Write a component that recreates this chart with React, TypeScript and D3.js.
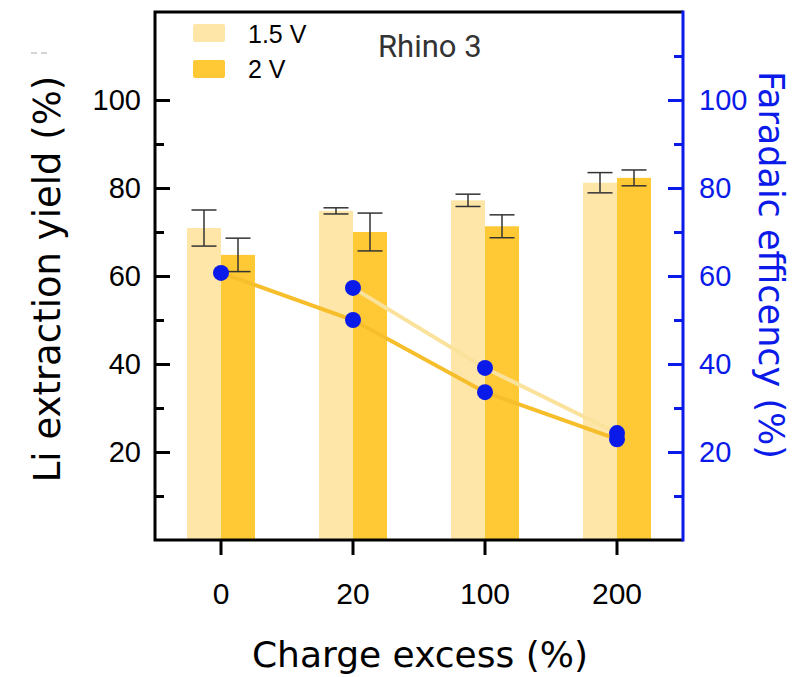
import React, { useEffect, useRef } from 'react';
import * as d3 from 'd3';

// categories (charge excess, %)
const categories = ['0', '20', '100', '200'];
// Li extraction yield (%)
const yield15 = [70.9, 74.8, 77.2, 81.2];
const err15 = [4.1, 0.7, 1.4, 2.3];
const yield2 = [64.8, 70.0, 71.3, 82.3];
const err2 = [3.8, 4.3, 2.6, 1.8];
// Faradaic efficiency (%)
const fe15: (number | null)[] = [null, 57.3, 39.1, 24.3];
const fe2: (number | null)[] = [60.7, 50.0, 33.6, 22.9];
const majorTicks = [20, 40, 60, 80, 100];
const minorLeft = [10, 30, 50, 70, 90];
const minorRight = [10, 30, 50, 70, 90, 110];

const LIGHT = '#FEE6A8';
const DARK = '#FFC935';
const LIGHT_LINE = '#FBE29C';
const DARK_LINE = '#F7BE2C';
const BLUE = '#0a1ae8';
const TICK_FONT = '"Liberation Sans", Arial, sans-serif';
const TITLE_FONT = '"DejaVu Sans", Verdana, sans-serif';

const App = () => {
  const ref = useRef<SVGSVGElement>(null);

  useEffect(() => {
    const W = 793;
    const H = 677;
    const left = 155, right = 683, top = 12, bottom = 540;

    const svg = d3.select(ref.current);
    svg.selectAll('*').remove();
    svg.attr('width', W).attr('height', H);

    const x = d3.scaleBand().domain(categories).range([left, right]).padding(0);
    const y = d3.scaleLinear().domain([0, 120]).range([bottom, top]);
    const cx = (c: string) => (x(c) as number) + x.bandwidth() / 2;
    const bw = 34;

    // bars
    const bars = svg.append('g');
    bars.selectAll('.b15').data(categories).enter().append('rect')
      .attr('x', d => cx(d) - bw)
      .attr('y', (d, i) => y(yield15[i]))
      .attr('width', bw)
      .attr('height', (d, i) => bottom - y(yield15[i]))
      .attr('fill', LIGHT);
    bars.selectAll('.b2').data(categories).enter().append('rect')
      .attr('x', d => cx(d))
      .attr('y', (d, i) => y(yield2[i]))
      .attr('width', bw)
      .attr('height', (d, i) => bottom - y(yield2[i]))
      .attr('fill', DARK);

    // error bars
    const errs = [
      { vals: yield15, err: err15, off: -bw / 2 },
      { vals: yield2, err: err2, off: bw / 2 },
    ];
    errs.forEach(s => {
      categories.forEach((c, i) => {
        const ex = cx(c) + s.off;
        const y1 = y(s.vals[i] + s.err[i]);
        const y0 = y(s.vals[i] - s.err[i]);
        const g = svg.append('g').attr('stroke', '#333').attr('stroke-width', 1.5);
        g.append('line').attr('x1', ex).attr('x2', ex).attr('y1', y1).attr('y2', y0);
        g.append('line').attr('x1', ex - 12.5).attr('x2', ex + 12.5).attr('y1', y1).attr('y2', y1);
        g.append('line').attr('x1', ex - 12.5).attr('x2', ex + 12.5).attr('y1', y0).attr('y2', y0);
      });
    });

    // faradaic efficiency lines
    const line = d3.line<[string, number | null]>()
      .defined(d => d[1] !== null)
      .x(d => cx(d[0]))
      .y(d => y(d[1] as number));
    const series = [
      { vals: fe15, color: LIGHT_LINE },
      { vals: fe2, color: DARK_LINE },
    ];
    series.forEach(s => {
      svg.append('path')
        .datum(categories.map((c, i) => [c, s.vals[i]] as [string, number | null]))
        .attr('fill', 'none')
        .attr('stroke', s.color)
        .attr('stroke-width', 4)
        .attr('d', line);
    });
    series.forEach(s => {
      svg.append('g').selectAll('circle')
        .data(categories.map((c, i) => [c, s.vals[i]] as [string, number | null]).filter(d => d[1] !== null))
        .enter().append('circle')
        .attr('cx', d => cx(d[0]))
        .attr('cy', d => y(d[1] as number))
        .attr('r', 8)
        .attr('fill', BLUE);
    });

    // axes
    const styleAxis = (g: any, color: string) => {
      g.select('.domain').remove();
      g.selectAll('line').attr('stroke', color).attr('stroke-width', 3);
      g.selectAll('text')
        .attr('fill', color)
        .style('font-family', TICK_FONT)
        .style('font-size', '29px');
    };
    svg.append('g').attr('transform', `translate(${left},0)`)
      .call(d3.axisLeft(y).tickValues(majorTicks).tickSize(-15).tickPadding(14))
      .call(g => styleAxis(g, '#000'));
    svg.append('g').attr('transform', `translate(${left},0)`)
      .call(d3.axisLeft(y).tickValues(minorLeft).tickSize(-9).tickFormat(() => ''))
      .call(g => styleAxis(g, '#000'));

    svg.append('g').attr('transform', `translate(${right},0)`)
      .call(d3.axisRight(y).tickValues(majorTicks).tickSize(-15).tickPadding(16))
      .call(g => styleAxis(g, BLUE));
    svg.append('g').attr('transform', `translate(${right},0)`)
      .call(d3.axisRight(y).tickValues(minorRight).tickSize(-9).tickFormat(() => ''))
      .call(g => styleAxis(g, BLUE));

    svg.append('g').attr('transform', `translate(0,${bottom})`)
      .call(d3.axisBottom(x).tickSize(15).tickPadding(28))
      .call(g => {
        styleAxis(g, '#000');
        g.selectAll('text').style('font-size', '30px');
      });

    // frame
    svg.append('path')
      .attr('d', `M${right},${top}H${left}V${bottom}H${right}`)
      .attr('fill', 'none').attr('stroke', '#000').attr('stroke-width', 3);
    svg.append('line')
      .attr('x1', right).attr('x2', right).attr('y1', top - 1.5).attr('y2', bottom + 1.5)
      .attr('stroke', BLUE).attr('stroke-width', 3);

    // axis titles
    svg.append('text')
      .attr('x', (left + right) / 2 + 1)
      .attr('y', 667)
      .attr('text-anchor', 'middle')
      .style('font-family', TITLE_FONT)
      .style('font-size', '36px')
      .text('Charge excess (%)');
    svg.append('text')
      .attr('transform', 'translate(60,279) rotate(-90)')
      .attr('text-anchor', 'middle')
      .style('font-family', TITLE_FONT)
      .style('font-size', '37px')
      .text('Li extraction yield (%)');
    svg.append('text')
      .attr('transform', 'translate(759,265) rotate(90)')
      .attr('text-anchor', 'middle')
      .attr('fill', BLUE)
      .style('font-family', TITLE_FONT)
      .style('font-size', '35px')
      .text('Faradaic efficency (%)');

    // legend
    const legend = [
      { label: '1.5 V', color: LIGHT },
      { label: '2 V', color: DARK },
    ];
    const lg = svg.append('g');
    legend.forEach((d, i) => {
      lg.append('rect')
        .attr('x', 193).attr('y', 24 + i * 36)
        .attr('width', 32).attr('height', 18)
        .attr('rx', 2)
        .attr('fill', d.color);
      lg.append('text')
        .attr('x', 248).attr('y', 43 + i * 35)
        .style('font-family', TICK_FONT)
        .style('font-size', '25px')
        .text(d.label);
    });

    svg.append('text')
      .attr('x', 378).attr('y', 57)
      .attr('fill', '#333')
      .style('font-family', 'Roboto, sans-serif')
      .style('font-size', '31px')
      .text('Rhino 3');

    // small stray dash mark at top left
    svg.append('line')
      .attr('x1', 31).attr('x2', 47).attr('y1', 53).attr('y2', 53)
      .attr('stroke', '#aaa').attr('stroke-width', 1)
      .attr('stroke-dasharray', '6,4');
  }, []);

  return (
    <svg
      ref={ref}
      style={{ position: 'absolute', left: 0, top: 0, background: '#fff' }}
    />
  );
};

export default App;
